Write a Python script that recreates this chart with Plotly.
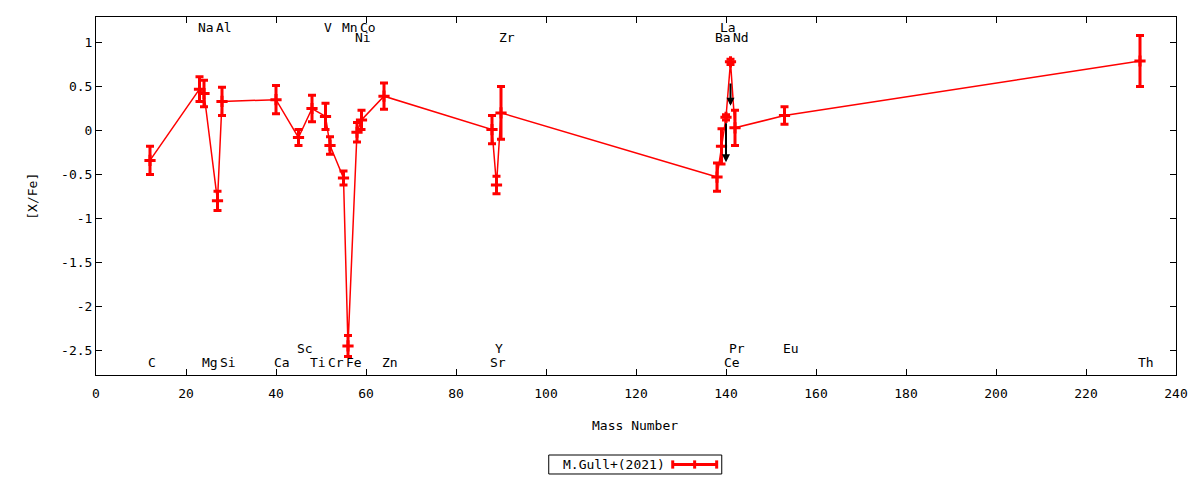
import plotly.graph_objects as go

# ---- data ----
mass = [12, 23, 24, 27, 28, 40, 45, 48, 51, 52, 55, 56, 58, 59, 64,
        88, 89, 90, 138, 139, 140, 141, 142, 153, 232]
xfe = [-0.34, 0.47, 0.42, -0.80, 0.33, 0.35, -0.08, 0.25, 0.16, -0.17, -0.54, -2.45, -0.02, 0.12, 0.39,
       0.01, -0.62, 0.20, -0.53, -0.18, 0.15, 0.78, 0.03, 0.17, 0.79]
err = [0.16, 0.14, 0.15, 0.11, 0.16, 0.16, 0.09, 0.15, 0.15, 0.10, 0.08, 0.12, 0.11, 0.11, 0.15,
       0.16, 0.10, 0.30, 0.16, 0.20, 0.03, 0.03, 0.20, 0.10, 0.29]

# element labels: name, mass, row value
label_names = ["C", "Na", "Mg", "Al", "Si", "Ca", "Sc", "Ti", "V", "Cr", "Mn", "Fe", "Ni", "Co", "Zn",
               "Sr", "Y", "Zr", "Ba", "La", "Ce", "Pr", "Nd", "Eu", "Th"]
label_mass = [12, 23, 24, 27, 28, 40, 45, 48, 51, 52, 55, 56, 58, 59, 64,
              88, 89, 90, 138, 139, 140, 141, 142, 153, 232]
label_y = [-2.64, 1.175, -2.64, 1.175, -2.64, -2.64, -2.48, -2.64, 1.175, -2.64, 1.175, -2.64, 1.06, 1.175, -2.64,
           -2.64, -2.48, 1.06, 1.06, 1.175, -2.64, -2.48, 1.06, -2.48, -2.64]

# upper-limit arrows
arrow_mass = [140, 141]
arrow_from = [0.10, 0.55]
arrow_to = [-0.36, 0.28]

x_ticks = list(range(0, 241, 20))
y_ticks = [-2.5, -2, -1.5, -1, -0.5, 0, 0.5, 1]
y_tick_text = ["-2.5", "-2", "-1.5", "-1", "-0.5", "0", "0.5", "1"]

FONT = "DejaVu Sans Mono"
RED = "#ff0000"

fig = go.Figure()
fig.add_trace(go.Scatter(
    x=mass, y=xfe, mode="lines+markers", name="M.Gull+(2021)",
    line=dict(color=RED, width=1.5),
    marker=dict(symbol="cross-thin", size=8, color=RED, line=dict(color=RED, width=3)),
    error_y=dict(type="data", array=err, visible=True, color=RED, thickness=3, width=4),
    showlegend=False,
))

annotations = []
for n, m, yv in zip(label_names, label_mass, label_y):
    annotations.append(dict(x=m, y=yv, xref="x", yref="y", text=n, showarrow=False,
                            xanchor="left", yanchor="middle", xshift=-3, borderpad=0,
                            font=dict(family=FONT, size=13, color="black")))
for m, y0, y1 in zip(arrow_mass, arrow_from, arrow_to):
    annotations.append(dict(x=m, y=y1, ax=m, ay=y0, xref="x", yref="y", axref="x", ayref="y",
                            text="", showarrow=True, arrowhead=2, arrowsize=0.8, arrowwidth=2,
                            arrowcolor="black"))

# axis titles
annotations.append(dict(x=-0.0595, y=0.5, xref="paper", yref="paper", text="[X/Fe]", textangle=-90,
                        showarrow=False, xanchor="center", yanchor="middle",
                        font=dict(family=FONT, size=13, color="black")))
annotations.append(dict(x=0.499, y=-0.14, xref="paper", yref="paper", text="Mass Number",
                        showarrow=False, xanchor="center", yanchor="middle",
                        font=dict(family=FONT, size=13, color="black")))
# legend
annotations.append(dict(x=0.4303, y=-0.25, xref="paper", yref="paper", text="M.Gull+(2021)",
                        showarrow=False, xanchor="left", yanchor="middle",
                        font=dict(family=FONT, size=13, color="black")))

shapes = [
    dict(type="rect", xref="paper", yref="paper", x0=0.4192, x1=0.5794, y0=-0.2765, y1=-0.2235,
         line=dict(color="black", width=1), fillcolor="white"),
    dict(type="line", xref="paper", yref="paper", x0=0.5340, x1=0.5747, y0=-0.25, y1=-0.25,
         line=dict(color=RED, width=3)),
    dict(type="line", xref="paper", yref="paper", x0=0.5340, x1=0.5340, y0=-0.2615, y1=-0.2385,
         line=dict(color=RED, width=3)),
    dict(type="line", xref="paper", yref="paper", x0=0.5747, x1=0.5747, y0=-0.2615, y1=-0.2385,
         line=dict(color=RED, width=3)),
    dict(type="line", xref="paper", yref="paper", x0=0.5543, x1=0.5543, y0=-0.2615, y1=-0.2385,
         line=dict(color=RED, width=3)),
]

fig.update_layout(
    width=1200, height=480,
    margin=dict(l=96, r=24, t=17, b=105),
    paper_bgcolor="white", plot_bgcolor="white",
    font=dict(family=FONT, size=13, color="black"),
    annotations=annotations, shapes=shapes,
    showlegend=False,
)
fig.update_xaxes(range=[0, 240], tickvals=x_ticks, ticks="inside", ticklen=6, tickwidth=1,
                 tickcolor="black", showline=True, linecolor="black", linewidth=1, mirror="ticks",
                 showgrid=False, zeroline=False, tickfont=dict(family=FONT, size=13),
                 ticklabelstandoff=6)
fig.update_yaxes(range=[-2.78, 1.29], tickvals=y_ticks, ticktext=y_tick_text, ticks="inside",
                 ticklen=6, tickwidth=1, tickcolor="black", showline=True, linecolor="black",
                 linewidth=1, mirror="ticks", showgrid=False, zeroline=False,
                 tickfont=dict(family=FONT, size=13))

fig.write_html("out.html", config={"displayModeBar": False},
               post_script="document.body.style.margin='0px';")
